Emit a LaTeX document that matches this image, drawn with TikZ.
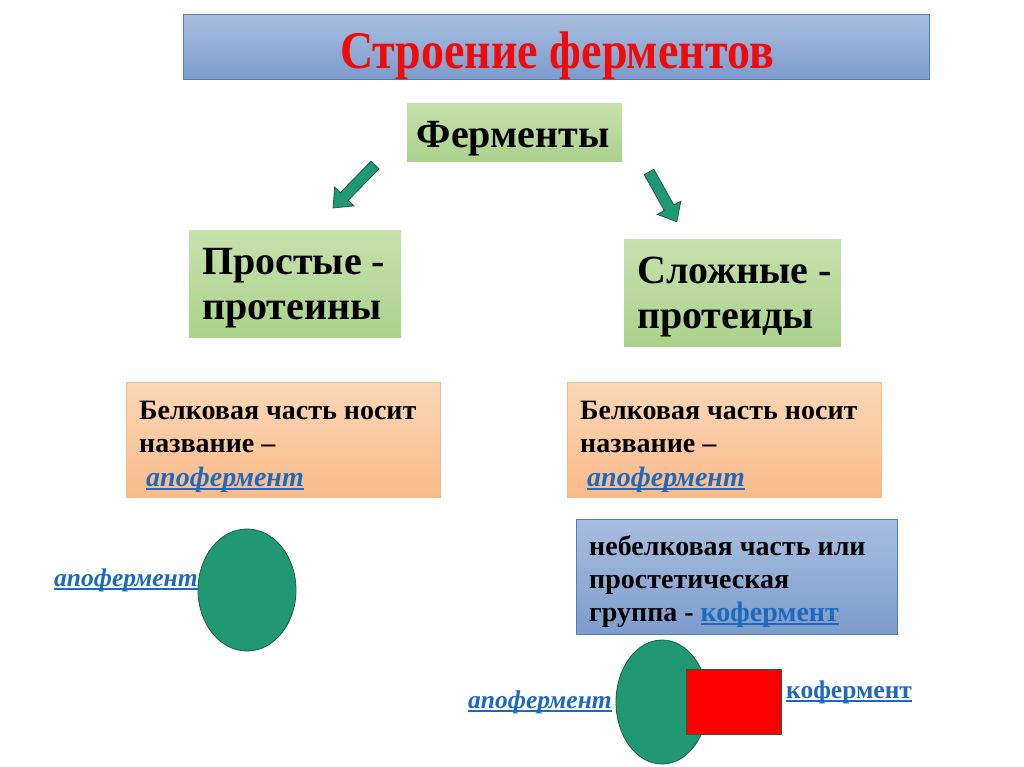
\documentclass[tikz,border=0pt]{standalone}
\usepackage{fontspec}
\setmainfont{Liberation Serif}
\usetikzlibrary{calc,shapes.geometric}
\definecolor{titleTop}{RGB}{168,190,224}
\definecolor{titleBot}{RGB}{124,156,204}
\definecolor{titleEdge}{RGB}{80,125,185}
\definecolor{grTop}{RGB}{200,225,172}
\definecolor{grBot}{RGB}{170,210,140}
\definecolor{orTop}{RGB}{252,216,184}
\definecolor{orBot}{RGB}{249,186,136}
\definecolor{orEdge}{RGB}{245,185,130}
\definecolor{teal}{RGB}{33,152,116}
\definecolor{tealEdge}{RGB}{25,95,65}
\definecolor{linkblue}{RGB}{30,105,190}
\definecolor{titlered}{RGB}{240,10,10}
\newcommand\ulk[1]{\textcolor{linkblue}{\setbox0\hbox{#1}\rlap{\vrule width\wd0 height -2.2pt depth 4.2pt}\box0}}
\newcommand\textlines[1]{\vtop{\halign{##\hfil\cr#1\crcr}}}
\tikzset{
  titlebox/.style={draw=titleEdge, line width=1pt, top color=titleTop, bottom color=titleBot, anchor=north west, inner sep=0pt},
  greenbox/.style={top color=grTop, bottom color=grBot, anchor=north west, inner sep=0pt},
  orangebox/.style={draw=orEdge, line width=0.8pt, top color=orTop, bottom color=orBot, anchor=north west, inner sep=0pt},
  bluebox/.style={draw=titleEdge, line width=1pt, top color=titleTop, bottom color=titleBot, anchor=north west, inner sep=0pt},
  boxtext/.style={anchor=base west, inner sep=0pt, font=\bfseries\fontsize{28}{33.5}\selectfont},
  bigtext/.style={anchor=base west, inner sep=0pt, font=\bfseries\fontsize{40}{45}\selectfont},
  blocharrow/.style={fill=teal, draw=tealEdge, line width=0.8pt, line join=miter},
  blob/.style={ellipse, fill=teal, draw=tealEdge, line width=0.8pt},
  lbl/.style={anchor=base west, inner sep=0pt, font=\bfseries\fontsize{25.5}{30}\selectfont},
}
\newcommand\blockarrowdraw[3]{%
  \begin{scope}[shift={(#1)}, rotate=#2]
    \draw[blocharrow] (0,-5.5) -- (#3-16,-5.5) -- (#3-16,-13.5) -- (#3,0) -- (#3-16,13.5) -- (#3-16,5.5) -- (0,5.5) -- cycle;
  \end{scope}}
\begin{document}
\begin{tikzpicture}[x=1pt, y=-1pt]
\useasboundingbox[fill=white] (0,0) rectangle (1024,767);
% title
\node[titlebox, minimum width=746, minimum height=65] (title) at (183,14) {};
\node[text=titlered, font=\bfseries\fontsize{46}{50}\selectfont, inner sep=0pt, anchor=base] (titletext) at (557,69) {\scalebox{1}[1.15]{Строение ферментов}};
% Ферменты
\node[greenbox, minimum width=215, minimum height=58] (enz) at (407,103) {};
\node[font=\bfseries\fontsize{40}{44}\selectfont, inner sep=0pt, anchor=base] (enztext) at (513,148) {Ферменты};
% arrows
\coordinate (la) at (375,165);
\coordinate (ra) at (649,172);
\blockarrowdraw{la}{225.7}{60}
\blockarrowdraw{ra}{-60.75}{57}
% simple / complex
\node[greenbox, minimum width=212, minimum height=107] (simple) at (189,230) {};
\node[bigtext] (simpletext) at (202,274) {\textlines{Простые -\cr протеины}};
\node[greenbox, minimum width=217, minimum height=107] (complex) at (624,239) {};
\node[bigtext] (complextext) at (637,283) {\textlines{Сложные -\cr протеиды}};
% orange boxes
\node[orangebox, minimum width=314, minimum height=115] (orl) at (126,382) {};
\node[boxtext] (orltext) at (139,419) {\textlines{Белковая часть носит\cr название –\cr \ \ulk{\itshape апофермент}}};
\node[orangebox, minimum width=314, minimum height=115] (orr) at (567,382) {};
\node[boxtext] (orrtext) at (580,419) {\textlines{Белковая часть носит\cr название –\cr \ \ulk{\itshape апофермент}}};
% blue box
\node[bluebox, minimum width=321, minimum height=115] (blue) at (576,519) {};
\node[boxtext, font=\bfseries\fontsize{28}{33}\selectfont] (bluetext) at (589,555) {\textlines{небелковая часть или\cr простетическая\cr группа - \ulk{кофермент}}};
% left model
\node[blob, minimum width=98, minimum height=122, inner sep=0pt] (apoL) at (247,590) {};
\node[lbl] (apoLtext) at (54,586) {\ulk{\itshape апофермент}};
% bottom model
\node[blob, minimum width=92, minimum height=124, inner sep=0pt] (apoB) at (662,702) {};
\node[fill=red, draw=tealEdge, line width=0.8pt, minimum width=95, minimum height=65, inner sep=0pt, anchor=north west] (co) at (686,669) {};
\node[lbl] (apoBtext) at (468,708) {\ulk{\itshape апофермент}};
\node[lbl] (cotext) at (786,698) {\ulk{кофермент}};
\end{tikzpicture}
\end{document}
